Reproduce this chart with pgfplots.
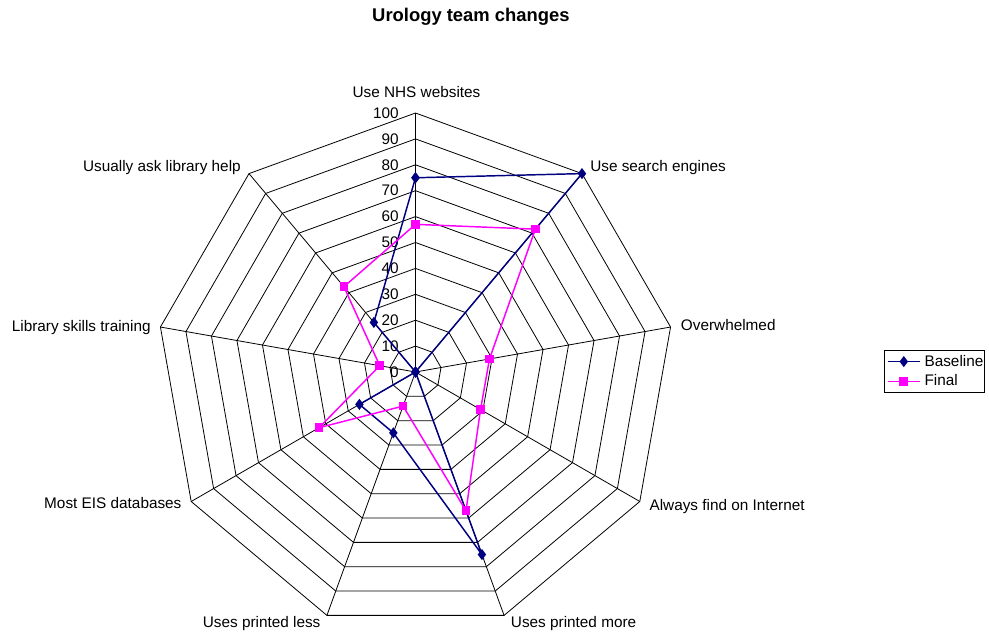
\documentclass[border=0pt]{standalone}
\usepackage{pgfplots}
\pgfplotsset{compat=1.18}
\usepgfplotslibrary{polar}
\usepackage{fontspec}
\setmainfont{Liberation Sans}
\definecolor{navyb}{RGB}{0,0,128}
\definecolor{magf}{RGB}{255,0,255}
\newcommand{\lblfont}{\fontsize{11.5}{13}\selectfont}
\begin{document}
\begin{tikzpicture}
\begin{polaraxis}[
  hide axis,
  scale only axis,
  width=388.5pt, height=388.5pt,
  xmin=0, xmax=360, ymin=0, ymax=100,
  clip=false,
  legend style={at={(1.4045,0.501)}, anchor=west, draw=black, line width=0.6pt, fill=white,
    inner xsep=2pt, inner ysep=2.5pt, row sep=3pt, column sep=2pt,
    nodes={font=\lblfont, inner sep=1pt},
    /tikz/every even column/.append style={text width=42pt, align=left}},
  legend cell align=left,
  legend image code/.code={\draw[line width=1.1pt, mark repeat=2,mark phase=2] plot coordinates {(0pt,0pt) (12pt,0pt) (24pt,0pt)};},
]
% grid rings
\pgfplotsinvokeforeach{10,20,30,40,50,60,70,80,90,100}{
  \addplot[forget plot, black, line width=0.6pt, mark=none]
    coordinates {(90,#1)(50,#1)(10,#1)(330,#1)(290,#1)(250,#1)(210,#1)(170,#1)(130,#1)(90,#1)};
}
% spokes
\pgfplotsinvokeforeach{90,50,10,330,290,250,210,170,130}{
  \addplot[forget plot, black, line width=0.6pt, mark=none] coordinates {(#1,0)(#1,100)};
}
% tick labels
\pgfplotsinvokeforeach{0,10,20,30,40,50,60,70,80,90,100}{
  \node[anchor=east, inner sep=0pt, font=\lblfont, xshift=-12.4pt] at (axis cs:90,#1) {#1};
}
\addplot[navyb, line width=1.1pt, mark=diamond*, mark size=3.3pt, mark options={solid, fill=navyb}]
  coordinates {(90,75)(50,100)(10,0)(330,0)(290,75)(250,25)(210,25)(170,0)(130,25)(90,75)};
\addlegendentry{Baseline}
\addplot[magf, line width=1.1pt, mark=square*, mark size=2.7pt, mark options={solid, fill=magf}]
  coordinates {(90,57)(50,72)(10,29)(330,29)(290,57)(250,14)(210,43)(170,14)(130,43)(90,57)};
\addlegendentry{Final}
\coordinate (O) at (axis cs:0,0);
\end{polaraxis}
\coordinate (TL) at ([xshift=-311.625pt, yshift=279pt]O);
\begin{scope}[shift={(TL)}, x=0.75pt, y=-0.75pt]
  \path (0,0) rectangle (989,637);
  \node[anchor=base, inner sep=0pt, font=\fontsize{13.8}{16}\selectfont\bfseries] at (470.9,21.7) {Urology team changes};
  \begin{scope}[every node/.style={inner sep=0pt, font=\lblfont}]
  \node[anchor=base] at (416.5,97.3) {Use NHS websites};
  \node[anchor=base west] at (590,171.7) {Use search engines};
  \node[anchor=base west] at (680.7,330.7) {Overwhelmed};
  \node[anchor=base west] at (649.3,510) {Always find on Internet};
  \node[anchor=base west] at (510.7,627.7) {Uses printed more};
  \node[anchor=base east] at (320.7,627.7) {Uses printed less};
  \node[anchor=base east] at (181.7,508.3) {Most EIS databases};
  \node[anchor=base east] at (151,331.7) {Library skills training};
  \node[anchor=base east] at (241,171.7) {Usually ask library help};
  \end{scope}
\end{scope}
\end{tikzpicture}
\end{document}
